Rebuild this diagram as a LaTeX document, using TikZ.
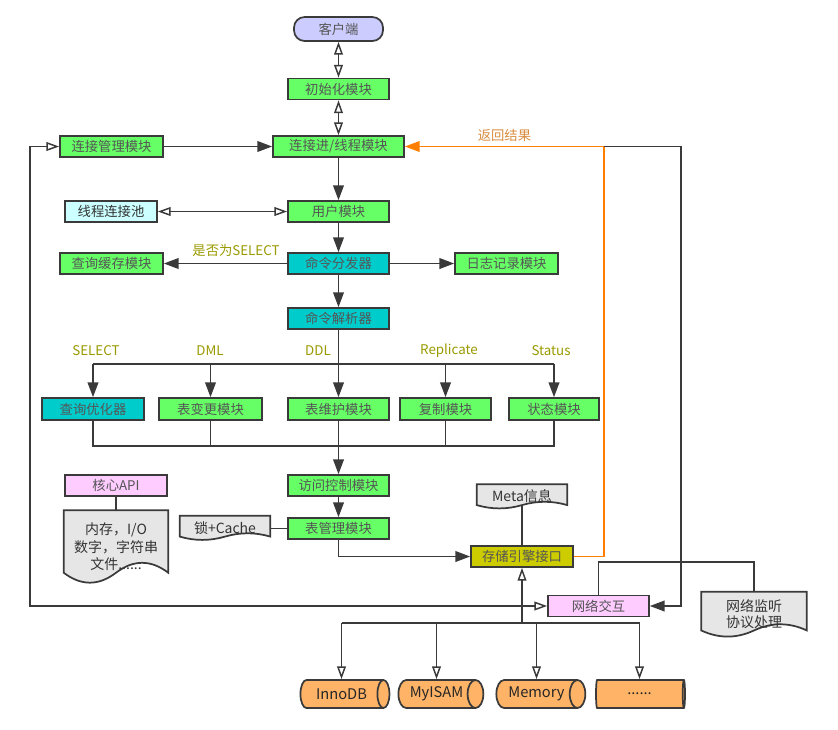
\documentclass[tikz,border=0pt]{standalone}
\usepackage{fontspec}
\setmainfont{Noto Sans CJK SC}
\usepackage{xcolor}
\usepackage{tikz}
\usetikzlibrary{arrows.meta,shapes.geometric,calc,backgrounds}

\definecolor{linec}{HTML}{3A3A3A}
\definecolor{boxgreen}{HTML}{66FF66}
\definecolor{boxteal}{HTML}{00CCCC}
\definecolor{boxlav}{HTML}{CCCCFF}
\definecolor{boxcyan}{HTML}{CCFFFF}
\definecolor{boxpink}{HTML}{FFCCFF}
\definecolor{boxolive}{HTML}{CCCC00}
\definecolor{docgray}{HTML}{E6E6E6}
\definecolor{cylorange}{HTML}{FFB366}
\definecolor{labolive}{HTML}{999900}
\definecolor{retorange}{HTML}{FF8000}
\definecolor{retlab}{HTML}{D98C3F}
\definecolor{boxtext}{HTML}{555555}

\tikzset{
  modbox/.style={draw=linec, line width=1.3pt, minimum width=75.75pt, minimum height=15.75pt,
    inner sep=0pt, text=boxtext, font=\fontsize{10}{12}\selectfont},
  greenbox/.style={modbox, fill=boxgreen},
  tealbox/.style={modbox, fill=boxteal},
  pinkbox/.style={modbox, fill=boxpink},
  doctext/.style={inner sep=0pt, align=center, text=black!80, font=\fontsize{10.5}{13}\selectfont},
  docline/.style={draw=linec, line width=1.3pt, fill=docgray},
  engine/.style={cylinder, draw=linec, line width=1.3pt, fill=cylorange, shape aspect=1.1,
    minimum height=66.75pt, minimum width=21pt, inner sep=0pt, text=black!85,
    font=\fontsize{11}{13}\selectfont},
  conn/.style={draw=linec, line width=1.1pt},
  farrow/.style={conn, -{Triangle[length=11pt,width=8pt]}},
  oarrow/.style={conn, -{Triangle[open,length=9.5pt,width=6.5pt]}},
  oboth/.style={conn, {Triangle[open,length=9.5pt,width=6.5pt]}-{Triangle[open,length=9.5pt,width=6.5pt]}},
  lab/.style={text=labolive, font=\fontsize{10}{12}\selectfont},
}

% document outline with wavy bottom, behind the named node
\newcommand\docframe[1]{%
  \begin{pgfonlayer}{background}
  \path[docline] let \p1=(#1.north west), \p2=(#1.south east),
    \n1={\x2-\x1}, \n2={0.3*(\y1-\y2)} in
    (\x1,\y1) -- (\x2,\y1) -- (\x2,\y2+0.5*\n2)
    .. controls (\x2-\n1/6,\y2+1.1*\n2) and (\x1+2*\n1/3,\y2+1.1*\n2) .. (\x1+0.5*\n1,\y2+0.5*\n2)
    .. controls (\x1+\n1/3,\y2-0.1*\n2) and (\x1+\n1/6,\y2-0.1*\n2) .. (\x1,\y2+0.5*\n2) -- cycle;
  \end{pgfonlayer}}

\begin{document}
\begin{tikzpicture}[x=0.75pt,y=-0.75pt]
\useasboundingbox (0,0) rectangle (838,729);

\node[modbox, fill=boxlav, rounded corners=8pt, minimum width=66.75pt, minimum height=18pt] (client) at (338.5,29) {客户端};
\node[greenbox] (init) at (338.5,89) {初始化模块};
\node[greenbox, minimum width=77.25pt] (connmgr) at (111.5,146.5) {连接管理模块};
\node[greenbox, minimum width=98.25pt] (conn) at (338.5,146.5) {连接进/线程模块};
\node[modbox, fill=boxcyan, minimum width=69pt, text=black!80] (pool) at (111,211.5) {线程连接池};
\node[greenbox] (user) at (338.5,211.5) {用户模块};
\node[greenbox, minimum width=77.25pt] (qcache) at (111.5,263.5) {查询缓存模块};
\node[tealbox] (dispatch) at (338.5,263.5) {命令分发器};
\node[greenbox, minimum width=77.25pt] (logmod) at (506.5,263.5) {日志记录模块};
\node[tealbox] (parser) at (338.5,318.5) {命令解析器};

\node[tealbox, minimum width=76.5pt, minimum height=16.5pt] (optim) at (93,409) {查询优化器};
\node[greenbox, minimum width=77.25pt, minimum height=16.5pt] (tblchg) at (210.5,409) {表变更模块};
\node[greenbox, minimum height=16.5pt] (tblmaint) at (338.5,409) {表维护模块};
\node[greenbox, minimum width=68.25pt, minimum height=16.5pt] (repl) at (445.5,409) {复制模块};
\node[greenbox, minimum width=67.5pt, minimum height=16.5pt] (status) at (554,409) {状态模块};

\node[pinkbox, minimum width=76.5pt] (api) at (116,485.5) {核心API};
\node[greenbox] (access) at (338.5,485.5) {访问控制模块};
\node[greenbox] (tblmgr) at (338.5,528.5) {表管理模块};
\node[modbox, fill=boxolive, minimum width=76.5pt] (store) at (522,556.5) {存储引擎接口};
\node[pinkbox] (net) at (598.5,606) {网络交互};

\node[doctext, minimum width=78pt, minimum height=54.75pt] (memdoc) at (116,547) {内存，I/O\\数字，字符串\\文件......};
\node[doctext, minimum width=67.5pt, minimum height=18pt] (lockdoc) at (225,528) {锁+Cache};
\node[doctext, minimum width=67.5pt, minimum height=18pt] (meta) at (522,496.5) {Meta信息};
\node[doctext, minimum width=78.75pt, minimum height=33.75pt, font=\fontsize{10.5}{12}\selectfont] (netdoc) at (754,614.5) {网络监听\\协议处理};
\docframe{memdoc}
\docframe{lockdoc}
\docframe{meta}
\docframe{netdoc}

\node[engine] (inno) at (341.5,694) {InnoDB};
\node[engine, minimum height=63.75pt] (myisam) at (436.5,694) {MyISAM};
\node[engine] (memory) at (536.5,694) {Memory};
\node[engine] (more) at (639.5,694) {......};

\draw[oboth] (client) -- (init);
\draw[oboth] (init) -- (conn);
\draw[farrow] (connmgr) -- (conn);
\draw[farrow] (conn) -- (user);
\draw[oboth] (pool) -- (user);
\draw[farrow] (user) -- (dispatch);
\draw[farrow] (dispatch) -- (qcache);
\draw[farrow] (dispatch) -- (logmod);
\draw[farrow] (dispatch) -- (parser);
\node[lab] (isselect) at (236,250) {是否为SELECT};

\coordinate (split) at (338.5,364);
\coordinate (merge) at (338.5,446);
\draw[conn] (parser) -- (split);
\draw[conn] (optim.north |- split) -- (status.north |- split);
\foreach \m in {optim,tblchg,tblmaint,repl,status}
  \draw[farrow] (\m.north |- split) -- (\m.north);
\node[lab] (lsel) at (96,351) {SELECT};
\node[lab] (ldml) at (210,351) {DML};
\node[lab] (lddl) at (318,351) {DDL};
\node[lab] (lrep) at (449,351) {Replicate};
\node[lab] (lsta) at (551,351) {Status};

\draw[conn] (optim.south) |- (status.south |- merge) -- (status.south);
\foreach \m in {tblchg,repl}
  \draw[conn] (\m.south) -- (\m.south |- merge);
\draw[farrow] (tblmaint) -- (access);
\draw[farrow] (access) -- (tblmgr);

\draw[conn] (api) -- (memdoc);
\draw[conn] (tblmgr.west) -- (tblmgr.west -| lockdoc.east);
\draw[farrow] (tblmgr.south) |- (store.west);
\draw[conn] (store.north) -- ([yshift=3pt]meta.south);

\coordinate (bus) at (522,623);
\draw[oarrow] (bus) -- (store.south);
\draw[conn] (inno.north |- bus) -- (more.north |- bus);
\foreach \m in {inno,myisam,memory,more}
  \draw[oarrow] (\m.north |- bus) -- (\m.north);

\coordinate (lcorner) at (30,146.5);
\draw[oboth] (net.west) -| (lcorner) -- (connmgr.west);

\coordinate (rj) at (604,146.5);
\coordinate (rc) at (681,146.5);
\draw[retorange, line width=1.1pt, -{Triangle[length=11pt,width=8pt]}] (store.east) -| (rj)
  -- node[above, text=retlab, font=\fontsize{10}{12}\selectfont] (ret) {返回结果} (conn.east);
\draw[farrow] (rj) -- (rc) |- (net.east);

\coordinate (nj) at (754,562);
\draw[conn] (net.north) |- (nj) -- (netdoc.north);

\end{tikzpicture}
\end{document}
